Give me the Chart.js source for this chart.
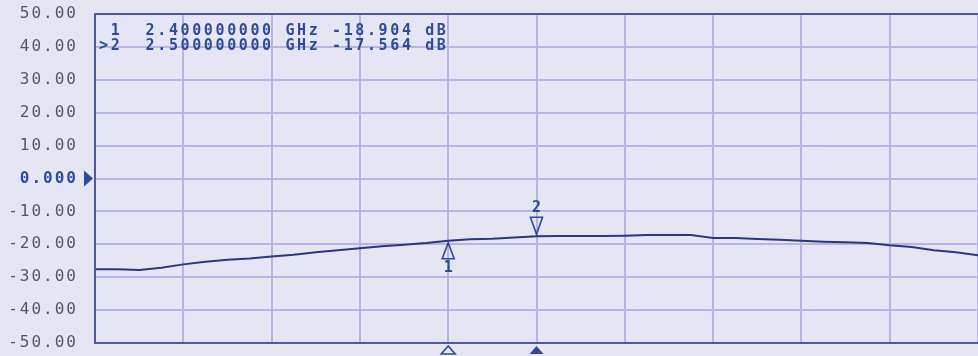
<!DOCTYPE html>
<html>
<head>
<meta charset="utf-8">
<script src="https://cdn.jsdelivr.net/npm/chart.js@4/dist/chart.umd.min.js"></script>
<style>
  html, body { margin: 0; padding: 0; background: #e5e5f3; }
  #wrap { width: 978px; height: 356px; }
</style>
</head>
<body>
<div id="wrap"><canvas id="vna" width="978" height="356"></canvas></div>
<script>
// trace, GHz / dB
const freqGHz = [2.000, 2.025, 2.050, 2.075, 2.100, 2.125, 2.150, 2.175, 2.200, 2.225,
                 2.250, 2.275, 2.300, 2.325, 2.350, 2.375, 2.400, 2.425, 2.450, 2.475,
                 2.500, 2.525, 2.550, 2.575, 2.600, 2.625, 2.650, 2.675, 2.700, 2.725,
                 2.750, 2.775, 2.800, 2.825, 2.850, 2.875, 2.900, 2.925, 2.950, 2.975, 3.000]
const traceDb = [-27.6, -27.6, -27.8, -27.1, -26.1, -25.3, -24.7, -24.3, -23.7, -23.2,
                 -22.4, -21.8, -21.2, -20.6, -20.1, -19.6, -18.904, -18.5, -18.3, -17.9,
                 -17.564, -17.5, -17.5, -17.5, -17.4, -17.2, -17.2, -17.2, -18.1, -18.1,
                 -18.4, -18.6, -18.9, -19.2, -19.4, -19.6, -20.3, -20.8, -21.8, -22.4, -23.3]

const markerIds = ['1', '2']
const markerFreqs = [2.4, 2.5]
const markerDb = [-18.904, -17.564]
const activeMarker = 1

const yTicks = [50, 40, 30, 20, 10, 0, -10, -20, -30, -40, -50]

const blue = '#2f4a9a'
const gridColor = '#b7b3e3'
const frameColor = '#4f56a6'
const monoFont = '"DejaVu Sans Mono", monospace'

let points = freqGHz.map(function(f, i) {
    return {x: f, y: traceDb[i]}
})

function isZeroTick(c) {
    return c && c.tick && c.tick.value === 0
}

// draw a string with a fixed cell per character, like the instrument screen
function drawMono(ctx, str, x, y, cell) {
    for (let i = 0; i < str.length; i++) {
        ctx.fillText(str[i], x + i * cell, y)
    }
}

const vnaOverlay = {
    id: 'vnaOverlay',
    beforeDraw(chart) {
        chart.ctx.letterSpacing = '2px'
    },
    afterDraw(chart) {
        const {ctx, chartArea: {left, right, top, bottom}, scales: {x, y}} = chart
        ctx.save()
        ctx.letterSpacing = '0px'

        // frame
        ctx.strokeStyle = frameColor
        ctx.lineWidth = 2
        ctx.beginPath()
        ctx.moveTo(right, top)
        ctx.lineTo(left, top)
        ctx.lineTo(left, bottom)
        ctx.lineTo(right, bottom)
        ctx.stroke()

        // reference level pointer at 0 dB
        const y0 = y.getPixelForValue(0)
        ctx.fillStyle = blue
        ctx.beginPath()
        ctx.moveTo(84, y0 - 8)
        ctx.lineTo(93, y0)
        ctx.lineTo(84, y0 + 8)
        ctx.closePath()
        ctx.fill()

        // marker readout
        ctx.font = 'bold 15px ' + monoFont
        ctx.textBaseline = 'middle'
        ctx.textAlign = 'left'
        ctx.fillStyle = blue
        for (let i = 0; i < markerIds.length; i++) {
            let prefix = i === activeMarker ? '>' : ' '
            let line = prefix + markerIds[i] + '  ' + markerFreqs[i].toFixed(9) + ' GHz ' +
                markerDb[i].toFixed(3) + ' dB'
            drawMono(ctx, line, 99, 31 + i * 15, 11.65)
        }

        // markers on the trace
        ctx.lineWidth = 1.6
        ctx.strokeStyle = blue
        ctx.textAlign = 'center'
        ctx.font = 'bold 15px ' + monoFont
        for (let i = 0; i < markerIds.length; i++) {
            const mx = x.getPixelForValue(markerFreqs[i])
            const my = y.getPixelForValue(markerDb[i])
            ctx.beginPath()
            if (i === activeMarker) {
                ctx.moveTo(mx, my - 2)
                ctx.lineTo(mx - 6, my - 19)
                ctx.lineTo(mx + 6, my - 19)
            } else {
                ctx.moveTo(mx, my + 2)
                ctx.lineTo(mx - 6, my + 18)
                ctx.lineTo(mx + 6, my + 18)
            }
            ctx.closePath()
            ctx.stroke()
            ctx.fillText(markerIds[i], mx, i === activeMarker ? my - 28 : my + 27)

            // position indicator under the graticule
            ctx.beginPath()
            ctx.moveTo(mx, bottom + 3)
            ctx.lineTo(mx - 7, bottom + 11)
            ctx.lineTo(mx + 7, bottom + 11)
            ctx.closePath()
            if (i === activeMarker) {
                ctx.fill()
            } else {
                ctx.stroke()
            }
        }
        ctx.restore()
    }
}

let ctx = document.getElementById('vna').getContext('2d')

new Chart(ctx, {
    type: 'line',
    data: {
        datasets: [{
            data: points,
            borderColor: '#2b3680',
            borderWidth: 2,
            pointRadius: 0,
            tension: 0,
            fill: false
        }]
    },
    plugins: [vnaOverlay],
    options: {
        responsive: false,
        animation: false,
        events: [],
        layout: {padding: {top: 14, bottom: 13, left: 0, right: 0}},
        plugins: {legend: {display: false}, tooltip: {enabled: false}},
        scales: {
            x: {
                type: 'linear',
                min: 2.0,
                max: 3.0,
                border: {display: false},
                grid: {color: gridColor, lineWidth: 2, drawTicks: false},
                ticks: {display: false, stepSize: 0.1},
                afterFit: (scale) => {
                    scale.height = 0
                    scale.paddingLeft = 0
                    scale.paddingRight = 0
                }
            },
            y: {
                min: -50,
                max: 50,
                border: {display: false},
                grid: {color: gridColor, lineWidth: 2, drawTicks: false},
                afterBuildTicks: (scale) => {
                    scale.ticks = yTicks.map(v => ({value: v}))
                },
                afterFit: (scale) => {
                    scale.width = 95
                    scale.paddingTop = 0
                    scale.paddingBottom = 0
                },
                ticks: {
                    padding: 17,
                    color: (c) => isZeroTick(c) ? blue : '#55566a',
                    font: (c) => ({family: monoFont, size: 16, weight: isZeroTick(c) ? 'bold' : 'normal'}),
                    callback: (v) => v === 0 ? '0.000' : v.toFixed(2)
                }
            }
        }
    }
});
</script>
</body>
</html>
